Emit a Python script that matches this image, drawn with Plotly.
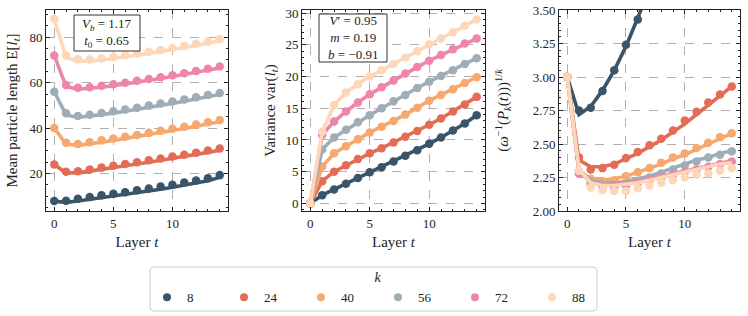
import plotly.graph_objects as go

t = list(range(15))
ks = ["8", "24", "40", "56", "72", "88"]
colors = ["#3a5569", "#e46c55", "#f6a86e", "#9fadb7", "#ef85a9", "#fdd7b8"]

# Panel 1: mean particle length (points and model)
mean_pts = [
    [7.9, 8.0, 8.9, 9.7, 10.4, 11.1, 11.8, 12.6, 13.4, 14.3, 15.1, 16.0, 16.9, 17.9, 19.3],
    [24.0, 20.8, 21.0, 21.8, 22.6, 23.4, 24.2, 25.0, 25.8, 26.6, 27.5, 28.3, 29.2, 30.1, 31.0],
    [40.0, 33.6, 33.0, 33.8, 34.6, 35.4, 36.2, 37.0, 37.9, 38.8, 39.7, 40.6, 41.6, 42.6, 43.6],
    [56.0, 46.5, 45.3, 45.9, 46.6, 47.4, 48.2, 49.0, 49.9, 50.8, 51.7, 52.6, 53.6, 54.6, 55.5],
    [72.0, 59.0, 57.8, 58.0, 58.6, 59.3, 60.0, 60.8, 61.6, 62.4, 63.3, 64.2, 65.1, 66.1, 67.1],
    [88.0, 72.0, 70.3, 70.2, 70.7, 71.3, 72.0, 72.8, 73.6, 74.4, 75.3, 76.2, 77.1, 78.1, 79.1],
]
mean_fit = [
    [7.8, 7.3, 7.9, 8.6, 9.3, 10.0, 10.7, 11.5, 12.3, 13.1, 14.0, 14.9, 15.8, 16.8, 18.3],
    [24.0, 20.3, 20.3, 21.0, 21.8, 22.6, 23.4, 24.2, 25.0, 25.8, 26.7, 27.5, 28.4, 29.3, 30.3],
    [40.0, 33.0, 32.4, 33.0, 33.8, 34.6, 35.4, 36.2, 37.1, 38.0, 38.9, 39.8, 40.8, 41.8, 42.8],
    [56.0, 45.8, 44.7, 45.2, 45.9, 46.6, 47.4, 48.2, 49.1, 50.0, 50.9, 51.8, 52.8, 53.8, 54.8],
    [72.0, 58.3, 57.1, 57.4, 58.0, 58.7, 59.4, 60.2, 61.0, 61.8, 62.7, 63.6, 64.5, 65.5, 66.5],
    [88.0, 71.0, 69.5, 69.5, 70.0, 70.6, 71.3, 72.1, 72.9, 73.7, 74.6, 75.5, 76.4, 77.4, 78.4],
]

# Panel 2: variance
var_pts = [
    [0, 1.3, 2.2, 3.1, 4.0, 4.9, 5.7, 6.6, 7.5, 8.4, 9.4, 10.4, 11.5, 12.6, 13.9],
    [0, 3.5, 5.0, 6.0, 7.0, 7.9, 8.7, 9.6, 10.5, 11.4, 12.4, 13.4, 14.5, 15.6, 16.8],
    [0, 5.8, 7.9, 9.0, 10.1, 11.2, 12.1, 13.0, 14.0, 15.1, 16.2, 17.1, 18.0, 19.0, 19.9],
    [0, 8.5, 10.4, 11.6, 12.8, 13.9, 15.0, 16.1, 17.1, 18.2, 19.2, 20.1, 21.0, 22.0, 22.9],
    [0, 10.8, 12.9, 14.5, 15.9, 17.2, 18.3, 19.4, 20.5, 21.5, 22.5, 23.4, 24.3, 25.2, 26.0],
    [0, 11.3, 15.5, 17.5, 18.8, 20.0, 21.0, 22.0, 23.0, 24.0, 25.1, 26.0, 27.0, 28.0, 29.0],
]

# Panel 3: (omega^-1(P_k(t)))^(1/k)
t_short = list(range(8))
root_pts = [
    [3.0, 2.75, 2.77, 2.895, 3.05, 3.24, 3.43, 3.66],
    [3.0, 2.40, 2.31, 2.32, 2.345, 2.395, 2.44, 2.49, 2.54, 2.60, 2.675, 2.74, 2.81, 2.87, 2.93],
    [3.0, 2.30, 2.24, 2.22, 2.23, 2.26, 2.29, 2.32, 2.36, 2.40, 2.43, 2.47, 2.51, 2.55, 2.58],
    [3.0, 2.28, 2.21, 2.19, 2.19, 2.20, 2.22, 2.25, 2.28, 2.31, 2.34, 2.37, 2.40, 2.42, 2.445],
    [3.0, 2.28, 2.20, 2.18, 2.18, 2.19, 2.21, 2.23, 2.25, 2.27, 2.29, 2.31, 2.33, 2.35, 2.37],
    [3.0, 2.30, 2.175, 2.155, 2.15, 2.15, 2.17, 2.19, 2.21, 2.23, 2.25, 2.27, 2.28, 2.30, 2.32],
]
root_fit = [
    [3.0, 2.72, 2.78, 2.90, 3.05, 3.23, 3.44, 3.67],
    [3.0, 2.38, 2.33, 2.33, 2.35, 2.39, 2.43, 2.48, 2.53, 2.59, 2.65, 2.72, 2.79, 2.86, 2.93],
    [3.0, 2.30, 2.24, 2.23, 2.24, 2.26, 2.29, 2.32, 2.35, 2.39, 2.42, 2.46, 2.50, 2.54, 2.58],
    [3.0, 2.30, 2.23, 2.21, 2.21, 2.22, 2.24, 2.26, 2.29, 2.32, 2.35, 2.38, 2.40, 2.43, 2.45],
    [3.0, 2.30, 2.21, 2.195, 2.20, 2.21, 2.22, 2.24, 2.26, 2.28, 2.30, 2.32, 2.34, 2.36, 2.375],
    [3.0, 2.31, 2.21, 2.19, 2.19, 2.20, 2.21, 2.23, 2.25, 2.27, 2.29, 2.31, 2.33, 2.35, 2.36],
]

FONT = "Liberation Serif"
INK = "#222222"
W, H = 748, 316
fig = go.Figure()

LW = 3.6
MS = 8.5
for i, k in enumerate(ks):
    c = colors[i]
    fig.add_trace(go.Scatter(x=t, y=mean_fit[i], mode="lines", line=dict(color=c, width=LW),
                             xaxis="x", yaxis="y", showlegend=False, hoverinfo="skip"))
    fig.add_trace(go.Scatter(x=t, y=mean_pts[i], mode="markers", marker=dict(color=c, size=MS),
                             xaxis="x", yaxis="y", showlegend=False))
    fig.add_trace(go.Scatter(x=t, y=var_pts[i], mode="lines+markers", line=dict(color=c, width=LW),
                             marker=dict(color=c, size=MS), xaxis="x2", yaxis="y2", showlegend=False))
    tt = t_short if len(root_pts[i]) == 8 else t
    fig.add_trace(go.Scatter(x=tt, y=root_fit[i], mode="lines", line=dict(color=c, width=LW),
                             xaxis="x3", yaxis="y3", showlegend=False, hoverinfo="skip"))
    fig.add_trace(go.Scatter(x=tt, y=root_pts[i], mode="markers", marker=dict(color=c, size=MS),
                             xaxis="x3", yaxis="y3", showlegend=False))

for i, k in enumerate(ks):
    fig.add_trace(go.Scatter(x=[None], y=[None], mode="markers", name=k,
                             marker=dict(color=colors[i], size=8), xaxis="x", yaxis="y"))

def fx(px):
    return px / W

def fy(py):
    return 1 - py / H

ydom = [fy(211), fy(10)]
axis_common = dict(
    showline=True, linecolor=INK, linewidth=1, mirror="allticks", automargin=False,
    ticks="inside", ticklen=4, tickcolor=INK, tickwidth=1, ticklabeloverflow="allow",
    showgrid=True, gridcolor="#b0b0b0", griddash="dash", gridwidth=1,
    zeroline=False, tickfont=dict(family=FONT, size=13, color=INK),
)
minor_style = dict(ticks="inside", ticklen=2, tickcolor=INK, showgrid=False)
xcommon = dict(axis_common, range=[-0.7, 14.7], tickvals=[0, 5, 10],
               minor=dict(minor_style, dtick=1, tick0=0),
               title=dict(text="Layer <i>t</i>", font=dict(family=FONT, size=15, color=INK), standoff=6))

fig.update_layout(
    width=W, height=H, margin=dict(l=0, r=0, t=0, b=0, autoexpand=False),
    paper_bgcolor="white", plot_bgcolor="white",
    font=dict(family=FONT, color=INK, size=13),
    xaxis=dict(xcommon, domain=[fx(46), fx(228)], anchor="y"),
    yaxis=dict(axis_common, domain=ydom, anchor="x", range=[3.5, 92], tickvals=[20, 40, 60, 80],
               minor=dict(minor_style, dtick=5, tick0=0),
               title=dict(text="Mean particle length E[<i>l<sub>t</sub></i>]",
                          font=dict(family=FONT, size=15, color=INK), standoff=8)),
    xaxis2=dict(xcommon, domain=[fx(302), fx(485)], anchor="y2"),
    yaxis2=dict(axis_common, domain=ydom, anchor="x2", range=[-1.2, 30.5], tickvals=[0, 5, 10, 15, 20, 25, 30],
                minor=dict(minor_style, dtick=1, tick0=0),
                title=dict(text="Variance var(<i>l<sub>t</sub></i>)",
                           font=dict(family=FONT, size=15, color=INK), standoff=6)),
    xaxis3=dict(xcommon, domain=[fx(559), fx(740)], anchor="y3"),
    yaxis3=dict(axis_common, domain=ydom, anchor="x3", range=[2.0, 3.5],
                tickvals=[2.0, 2.25, 2.5, 2.75, 3.0, 3.25, 3.5], tickformat=".2f",
                minor=dict(minor_style, dtick=0.05, tick0=0),
                title=dict(text="(<i>ω</i><sup>−1</sup>(<i>P<sub>k</sub></i>(<i>t</i>)))<sup>1/<i>k</i></sup>",
                           font=dict(family=FONT, size=15, color=INK), standoff=20)),
    legend=dict(orientation="h", x=fx(147), xanchor="left", y=fy(264), yanchor="top",
                borderwidth=0, bgcolor="rgba(0,0,0,0)",
                font=dict(family=FONT, size=13, color=INK),
                title=dict(text="<i>k</i>", side="top center", font=dict(family=FONT, size=14, color=INK)),
                entrywidth=32, entrywidthmode="pixels", itemwidth=30, tracegroupgap=0),
)

# legend frame (rounded rectangle)
x0, x1, y0, y1, r = fx(150), fx(597), fy(311), fy(267), 4
rx, ry = r / W, r / H
path = (f"M {x0+rx},{y1} L {x1-rx},{y1} Q {x1},{y1} {x1},{y1-ry} L {x1},{y0+ry} Q {x1},{y0} {x1-rx},{y0} "
        f"L {x0+rx},{y0} Q {x0},{y0} {x0},{y0+ry} L {x0},{y1-ry} Q {x0},{y1} {x0+rx},{y1} Z")
fig.add_shape(type="path", path=path, xref="paper", yref="paper", line=dict(color="#cccccc", width=1),
              layer="below")

# text boxes
fig.add_shape(type="rect", xref="paper", yref="paper", x0=fx(74), x1=fx(140), y0=fy(51), y1=fy(15),
              line=dict(color="#333333", width=1), fillcolor="white")
fig.add_shape(type="rect", xref="paper", yref="paper", x0=fx(319), x1=fx(387), y0=fy(62), y1=fy(14),
              line=dict(color="#333333", width=1), fillcolor="white")
fig.add_annotation(xref="paper", yref="paper", x=fx(107), y=fy(33), xanchor="center", yanchor="middle",
                   text="<i>V<sub>b</sub></i> = 1.17<br><i>t</i><sub>0</sub> = 0.65", showarrow=False,
                   align="center", font=dict(family=FONT, size=13, color=INK))
fig.add_annotation(xref="paper", yref="paper", x=fx(353), y=fy(38), xanchor="center", yanchor="middle",
                   text="<i>V</i>′ = 0.95<br><i>m</i> = 0.19<br><i>b</i> = −0.91", showarrow=False,
                   align="center", font=dict(family=FONT, size=13, color=INK))

# the page has no body margin so the 748x316 figure fills the window exactly
fig.write_html("out.html", config={"displayModeBar": False},
               post_script="document.body.style.margin='0';")
